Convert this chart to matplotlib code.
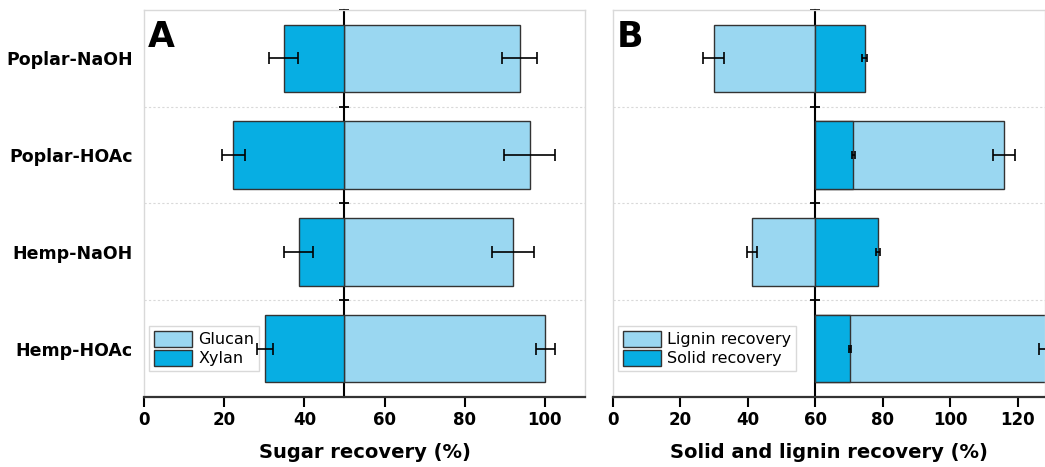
import numpy as np
import matplotlib
matplotlib.use("Agg")
import matplotlib.pyplot as plt

# data (bar end positions, bars drawn from the centre line)
categories = ["Poplar-NaOH", "Poplar-HOAc", "Hemp-NaOH", "Hemp-HOAc"]

glucan = [93.7, 96.2, 92.0, 100.1]
glucan_err = [4.3, 6.4, 5.3, 2.3]
xylan = [34.8, 22.3, 38.6, 30.2]
xylan_err = [3.6, 2.9, 3.6, 2.1]

lignin = [29.9, 115.9, 41.1, 128.5]
lignin_err = [3.1, 3.3, 1.5, 2.2]
solid = [74.6, 71.2, 78.6, 70.2]
solid_err = [0.7, 0.4, 0.6, 0.3]

base_a, xmax_a = 50, 110
base_b, xmax_b = 60, 128

light = "#9ad7f1"
dark = "#07aee3"
edge = "#333333"
gridc = "#d9d9d9"

plt.rcParams["font.family"] = "DejaVu Sans"

fig = plt.figure(figsize=(10.45, 4.67), dpi=100)
ax_a = fig.add_axes([0.1378, 0.15, 0.4220, 0.8286])
ax_b = fig.add_axes([0.5866, 0.15, 0.4134, 0.8286])

y = np.arange(len(categories))
bounds = np.arange(-0.5, len(categories), 1.0)


def style_axis(ax, base, xmax, ticks, letter, xlabel):
    ax.set_xlim(0, xmax)
    ax.set_ylim(len(categories) - 0.5, -0.5)
    for s in ["top", "left", "right"]:
        ax.spines[s].set_color(gridc)
        ax.spines[s].set_linewidth(1.0)
    ax.spines["bottom"].set_color("#333333")
    ax.spines["bottom"].set_linewidth(1.6)
    ax.set_xticks(ticks)
    ax.tick_params(axis="x", direction="out", length=7, width=1.5, labelsize=12, pad=3)
    for lab in ax.get_xticklabels():
        lab.set_fontweight("bold")
    for b in bounds[1:-1]:
        ax.axhline(b, color=gridc, lw=0.8, ls=(0, (2, 2)), zorder=0)
    # centre line with little ticks at the category boundaries
    sec = ax.secondary_yaxis(base / xmax)
    sec.set_yticks(bounds)
    sec.tick_params(direction="inout", length=7, width=1.3, labelleft=False, labelright=False)
    sec.spines["left"].set_linewidth(1.5)
    sec.spines["left"].set_color("black")
    ax.text(0.008, 0.975, letter, transform=ax.transAxes, fontsize=25,
            fontweight="heavy", va="top", ha="left")
    ax.set_xlabel(xlabel, fontsize=14, fontweight="bold", labelpad=10)


def add_legend(ax):
    leg = ax.legend(loc="lower left", bbox_to_anchor=(0.0, 0.055), fontsize=11.5,
                    handlelength=2.4, handleheight=1.15, labelspacing=0.15,
                    handletextpad=0.4, borderpad=0.3, borderaxespad=0.3,
                    fancybox=False, framealpha=1)
    leg.get_frame().set_edgecolor(gridc)
    leg.set_zorder(2.5)


# panel A
ax_a.barh(y, np.array(glucan) - base_a, left=base_a, height=0.7, color=light,
          edgecolor=edge, lw=1.0, label="Glucan", zorder=2)
ax_a.barh(y, np.array(xylan) - base_a, left=base_a, height=0.7, color=dark,
          edgecolor=edge, lw=1.0, label="Xylan", zorder=2)
ax_a.errorbar(glucan, y, xerr=glucan_err, fmt="none", ecolor="black", elinewidth=1.2,
              capsize=4, capthick=1.2, zorder=3)
ax_a.errorbar(xylan, y, xerr=xylan_err, fmt="none", ecolor="black", elinewidth=1.2,
              capsize=4, capthick=1.2, zorder=3)
ax_a.set_yticks(y)
ax_a.set_yticklabels(categories, fontsize=12.5, fontweight="bold")
ax_a.tick_params(axis="y", length=0, pad=8)
style_axis(ax_a, base_a, xmax_a, np.arange(0, 101, 20), "A", "Sugar recovery (%)")
add_legend(ax_a)

# panel B
ax_b.barh(y, np.array(lignin) - base_b, left=base_b, height=0.7, color=light,
          edgecolor=edge, lw=1.0, label="Lignin recovery", zorder=2)
ax_b.barh(y, np.array(solid) - base_b, left=base_b, height=0.7, color=dark,
          edgecolor=edge, lw=1.0, label="Solid recovery", zorder=2)
ax_b.errorbar(lignin, y, xerr=lignin_err, fmt="none", ecolor="black", elinewidth=1.2,
              capsize=4, capthick=1.2, zorder=3)
ax_b.errorbar(solid, y, xerr=solid_err, fmt="none", ecolor="black", elinewidth=1.2,
              capsize=3, capthick=1.2, zorder=3)
ax_b.set_yticks([])
style_axis(ax_b, base_b, xmax_b, np.arange(0, 121, 20), "B", "Solid and lignin recovery (%)")
add_legend(ax_b)

fig.savefig("out.png", dpi=100)
